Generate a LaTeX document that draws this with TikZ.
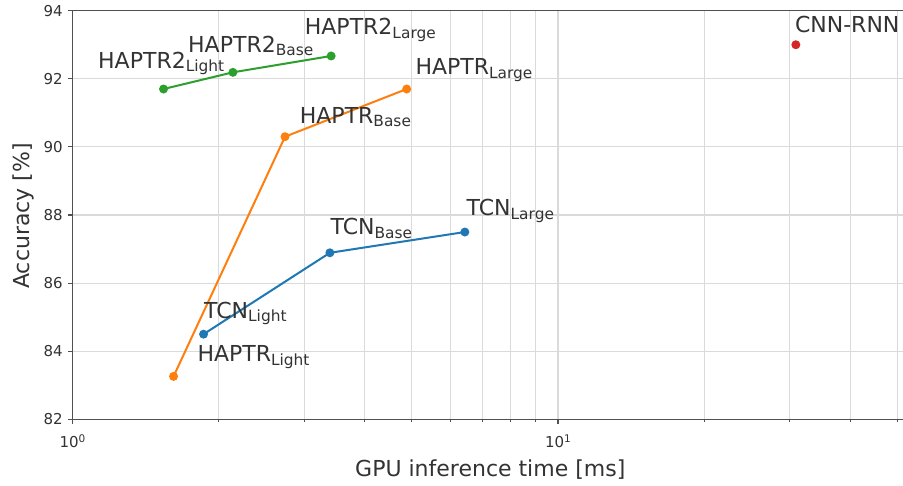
\documentclass[tikz,border=0pt]{standalone}
\usepackage{fontspec}
\setmainfont{DejaVu Sans}
\definecolor{tabblue}{HTML}{1F77B4}
\definecolor{taborange}{HTML}{FF7F0E}
\definecolor{tabgreen}{HTML}{2CA02C}
\definecolor{tabred}{HTML}{D62728}
\definecolor{gridgray}{HTML}{DADADA}
\definecolor{spinegray}{HTML}{505050}
\definecolor{textgray}{HTML}{333333}
% label with a lowered, smaller subscript
\newcommand{\modellabel}[2]{#1\raisebox{-3.6pt}{\fontsize{15.4}{18}\selectfont #2}}
\newcommand{\decade}[1]{10\raisebox{5.5pt}{\fontsize{10.5}{12}\selectfont #1}}
\begin{document}
\begin{tikzpicture}[x=1pt,y=1pt,
  txt/.style={inner sep=0pt, text=textgray},
  lbl/.style={txt, anchor=base west, font=\fontsize{22}{26}\selectfont},
  ticklbl/.style={txt, font=\fontsize{15}{18}\selectfont},
  axislbl/.style={txt, anchor=base, font=\fontsize{22}{26}\selectfont},
  dot/.style={circle, fill=#1, draw=none, inner sep=0pt, minimum size=9pt},
  series/.style={draw=#1, line width=2pt},
  gridline/.style={draw=gridgray, line width=1.1pt},
  spine/.style={draw=spinegray, line width=1.2pt},
  tickmark/.style={draw=spinegray, line width=1.1pt},
]
\useasboundingbox (0,0) rectangle (903,485);
\fill[white] (0,0) rectangle (903,485);
\clip (0,0) rectangle (903,485);

% data frame: x = log10(time in ms), y = accuracy - 82
\begin{scope}[shift={(72.5,65.7)}, x=485.5pt, y=34.05pt]
  \def\xmax{1.7243}
  % grid
  \foreach \v in {2,3,4,5,6,7,8,9,20,30,40,50}
    \draw[gridline] ({log10(\v)},0) -- ({log10(\v)},12);
  \draw[gridline] (1,0) -- (1,12);
  \foreach \a in {2,4,6,8,10}
    \draw[gridline] (0,\a) -- (\xmax,\a);

  % spines
  \draw[spine] (0,0) rectangle (\xmax,12);

  % y ticks and labels
  \foreach \a/\l in {0/82,2/84,4/86,6/88,8/90,10/92,12/94} {
    \draw[tickmark] (0,\a) -- ++(-5pt,0);
    \path (0,\a) ++(-9.7pt,0) node[ticklbl, anchor=east] (yt\l) {\l};
  }
  % x ticks and labels
  \foreach \e in {0,1} {
    \draw[tickmark] (\e,0) -- ++(0,-5pt);
    \path (\e,0) ++(0,-28.7pt) node[ticklbl, anchor=base] (xt\e) {\decade{\e}};
  }
  \foreach \v in {2,3,4,5,6,7,8,9,20,30,40,50}
    \draw[tickmark] ({log10(\v)},0) -- ++(0,-3pt);

  % measured points
  \coordinate (h2light) at ({log10(1.54)},{91.70-82});
  \coordinate (h2base)  at ({log10(2.14)},{92.19-82});
  \coordinate (h2large) at ({log10(3.41)},{92.67-82});
  \coordinate (hlight)  at ({log10(1.615)},{83.26-82});
  \coordinate (hbase)   at ({log10(2.74)},{90.30-82});
  \coordinate (hlarge)  at ({log10(4.88)},{91.70-82});
  \coordinate (tlight)  at ({log10(1.862)},{84.50-82});
  \coordinate (tbase)   at ({log10(3.39)},{86.89-82});
  \coordinate (tlarge)  at ({log10(6.43)},{87.50-82});
  \coordinate (cnnrnn)  at ({log10(30.9)},{93.00-82});

  % model families
  \draw[series=tabblue]   (tlight) -- (tbase) -- (tlarge);
  \draw[series=taborange] (hlight) -- (hbase) -- (hlarge);
  \draw[series=tabgreen]  (h2light) -- (h2base) -- (h2large);

  \foreach \p in {tlight,tbase,tlarge} \node[dot=tabblue] (d\p) at (\p) {};
  \foreach \p in {hlight,hbase,hlarge} \node[dot=taborange] (d\p) at (\p) {};
  \foreach \p in {h2light,h2base,h2large} \node[dot=tabgreen] (d\p) at (\p) {};
  \node[dot=tabred] (dcnnrnn) at (cnnrnn) {};
\end{scope}

% point labels
\node[lbl] (lh2light) at (98,416.7)   {\modellabel{HAPTR2}{Light}};
\node[lbl] (lh2base)  at (188,432.7)  {\modellabel{HAPTR2}{Base}};
\node[lbl] (lh2large) at (304.7,450)  {\modellabel{HAPTR2}{Large}};
\node[lbl] (lhlarge)  at (415.3,410)  {\modellabel{HAPTR}{Large}};
\node[lbl] (lhbase)   at (299.7,361.7){\modellabel{HAPTR}{Base}};
\node[lbl] (ltlarge)  at (466.5,269)  {\modellabel{TCN}{Large}};
\node[lbl] (ltbase)   at (330.5,250)  {\modellabel{TCN}{Base}};
\node[lbl] (ltlight)  at (204,166.7)  {\modellabel{TCN}{Light}};
\node[lbl] (lhlight)  at (197.3,123.3){\modellabel{HAPTR}{Light}};
\node[lbl] (lcnnrnn)  at (794.8,452.7){CNN-RNN};

% axis titles
\node[axislbl] (xlabel) at (490.3,8.3) {GPU inference time [ms]};
\node[axislbl, rotate=90] (ylabel) at (29.5,269) {Accuracy [\%]};
\end{tikzpicture}
\end{document}
